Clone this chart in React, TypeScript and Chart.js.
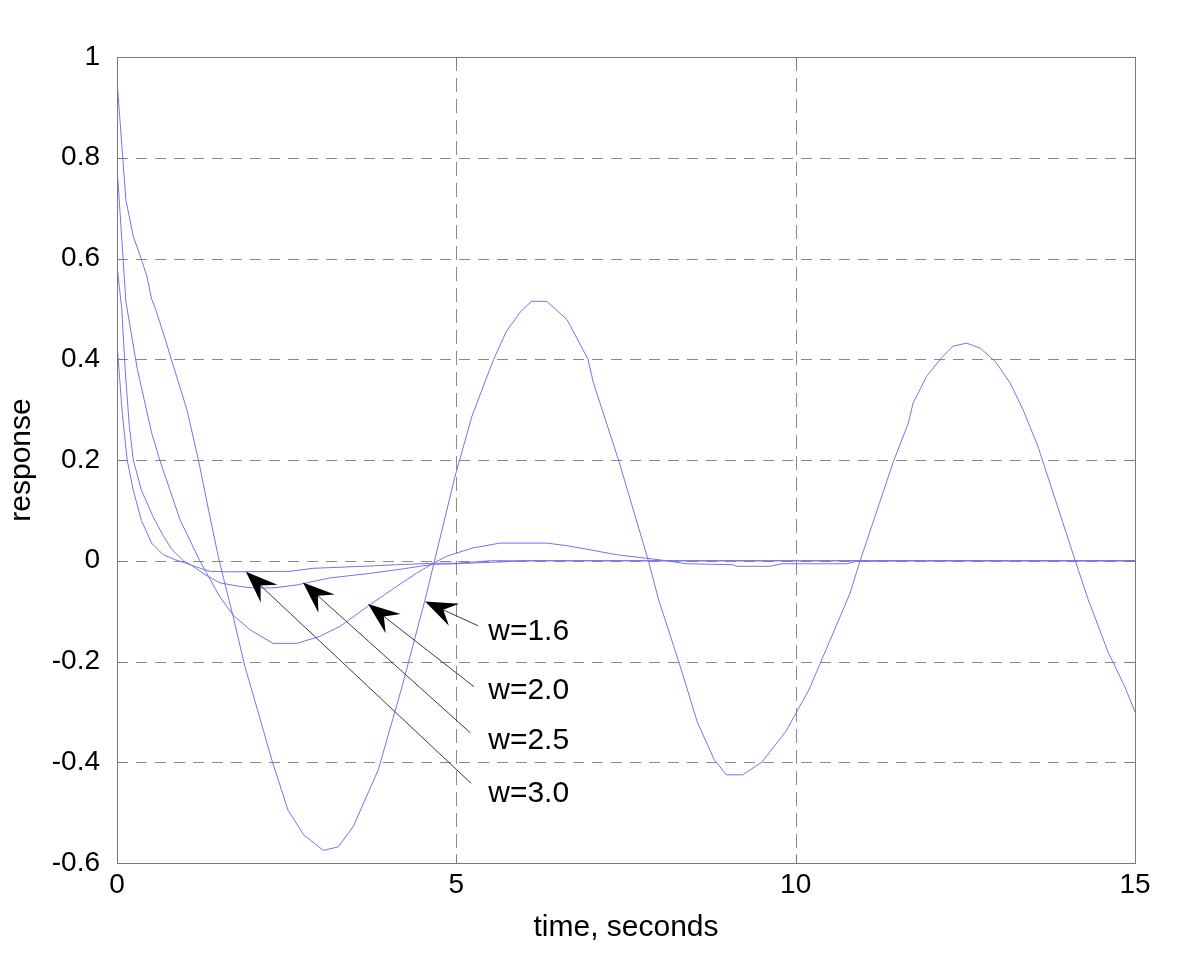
import React, { useEffect, useRef } from "react";
import { Chart, registerables } from "chart.js";

Chart.register(...registerables);

// ---- data ----
// w = 1.6
const tA = [0, 0.13, 0.24, 0.36, 0.44, 0.51, 0.56, 0.71, 0.8, 1.03, 1.2, 1.35, 1.49, 1.57, 1.71, 1.885, 2.1, 2.28, 2.52, 2.75, 3.04, 3.26, 3.48, 3.85, 4.2, 4.54, 4.98, 5.23, 5.55, 5.74, 5.95, 6.11, 6.33, 6.63, 6.94, 7.02, 7.39, 7.83, 7.98, 8.3, 8.55, 8.8, 8.98, 9.22, 9.5, 9.85, 10.2, 10.5, 10.8, 10.95, 11.44, 11.66, 11.73, 11.93, 12.15, 12.32, 12.52, 12.72, 12.94, 13.16, 13.35, 13.57, 13.65, 14.12, 14.31, 14.6, 14.85, 15];
const vA = [0.955, 0.717, 0.644, 0.598, 0.565, 0.519, 0.503, 0.44, 0.4, 0.3, 0.2, 0.1, 0.01, -0.035, -0.11, -0.21, -0.31, -0.395, -0.495, -0.544, -0.575, -0.568, -0.528, -0.415, -0.25, -0.077, 0.167, 0.287, 0.4, 0.456, 0.495, 0.515, 0.515, 0.479, 0.4, 0.353, 0.2, 0, -0.077, -0.21, -0.32, -0.395, -0.425, -0.425, -0.4, -0.34, -0.255, -0.16, -0.065, 0, 0.197, 0.273, 0.313, 0.366, 0.403, 0.426, 0.432, 0.422, 0.396, 0.353, 0.3, 0.227, 0.194, 0, -0.077, -0.18, -0.25, -0.3];

// w = 2.0
const tB = [0, 0.09, 0.13, 0.3, 0.51, 0.63, 0.93, 1.22, 1.5, 1.71, 1.96, 2.3, 2.65, 2.99, 3.29, 3.73, 4.12, 4.41, 4.66, 4.86, 5.23, 5.64, 6.33, 6.63, 6.92, 7.36, 7.8, 8.1, 8.39, 9.08, 9.13, 9.62, 9.8, 10.75, 10.9, 11.6, 15];
const vB = [0.782, 0.6, 0.515, 0.38, 0.254, 0.2, 0.081, 0, -0.068, -0.108, -0.137, -0.164, -0.164, -0.15, -0.13, -0.087, -0.051, -0.025, -0.005, 0.009, 0.025, 0.035, 0.035, 0.03, 0.023, 0.012, 0.005, 0, -0.006, -0.008, -0.011, -0.011, -0.006, -0.006, -0.001, 0, 0];

// w = 2.5
const tC = [0, 0.07, 0.12, 0.18, 0.24, 0.36, 0.54, 0.68, 0.81, 0.98, 1.12, 1.3, 1.52, 1.81, 2.0, 2.3, 2.65, 3.14, 3.73, 4.22, 4.66, 5.0, 5.7, 6.0, 15];
const vC = [0.586, 0.5, 0.38, 0.27, 0.2, 0.14, 0.085, 0.05, 0.022, 0, -0.011, -0.028, -0.044, -0.051, -0.054, -0.054, -0.048, -0.034, -0.025, -0.016, -0.007, -0.006, -0.002, 0, 0];

// w = 3.0
const tD = [0, 0.04, 0.08, 0.15, 0.24, 0.36, 0.51, 0.68, 0.86, 1.08, 1.25, 1.37, 1.66, 2.55, 2.89, 3.63, 4.1, 4.66, 5.0, 5.5, 15];
const vD = [0.433, 0.36, 0.29, 0.2, 0.14, 0.08, 0.035, 0.012, 0.002, -0.008, -0.016, -0.021, -0.022, -0.021, -0.015, -0.011, -0.008, -0.005, -0.005, 0, 0];

const xTicks = [0, 5, 10, 15];
const xTickLabels = ["0", "5", "10", "15"];
const yTicks = [-0.6, -0.4, -0.2, 0, 0.2, 0.4, 0.6, 0.8, 1];
const yTickLabels = ["-0.6", "-0.4", "-0.2", "0", "0.2", "0.4", "0.6", "0.8", "1"];

const xTitle = "time, seconds";
const yTitle = "response";

// annotations (data coordinates)
const noteLabels = ["w=1.6", "w=2.0", "w=2.5", "w=3.0"];
const noteTipT = [4.54, 3.7, 2.74, 1.9];
const noteTipV = [-0.081, -0.086, -0.043, -0.022];
const noteTailT = [5.32, 5.26, 5.21, 5.22];
const noteTailV = [-0.129, -0.25, -0.342, -0.442];
const noteLabelT = [5.47, 5.47, 5.47, 5.47];
const noteLabelV = [-0.141, -0.258, -0.358, -0.463];

const FONT = "'Liberation Sans', Arial, Helvetica, sans-serif";
const LINE_COLOR = "#7474ee";

function toPoints(ts: number[], vs: number[]) {
  return ts.map((t, i) => ({ x: t, y: vs[i] }));
}

export default function App() {
  const ref = useRef<HTMLCanvasElement | null>(null);

  useEffect(() => {
    if (!ref.current) return;

    const framePlugin = {
      id: "matlabFrame",
      beforeDatasetsDraw(chart: any) {
        const { ctx, chartArea, scales } = chart;
        const { left, right, top, bottom } = chartArea;
        ctx.save();
        ctx.strokeStyle = "#8a8a8a";
        ctx.lineWidth = 1;
        ctx.setLineDash([11, 8]);
        yTicks.forEach((v) => {
          if (v === yTicks[0] || v === yTicks[yTicks.length - 1]) return;
          const y = Math.round(scales.y.getPixelForValue(v)) + 0.5;
          ctx.beginPath();
          ctx.moveTo(left, y);
          ctx.lineTo(right, y);
          ctx.stroke();
        });
        ctx.setLineDash([14, 7]);
        xTicks.forEach((v) => {
          if (v === xTicks[0] || v === xTicks[xTicks.length - 1]) return;
          const x = Math.round(scales.x.getPixelForValue(v)) + 0.5;
          ctx.beginPath();
          ctx.moveTo(x, top);
          ctx.lineTo(x, bottom);
          ctx.stroke();
        });
        ctx.restore();
      },
      afterDatasetsDraw(chart: any) {
        const { ctx, chartArea, scales } = chart;
        const { left, right, top, bottom } = chartArea;
        ctx.save();
        ctx.strokeStyle = "#7a7a7a";
        ctx.lineWidth = 1;
        ctx.setLineDash([]);
        const L = Math.round(left) + 0.5;
        const R = Math.round(right) + 0.5;
        const T = Math.round(top) + 0.5;
        const B = Math.round(bottom) + 0.5;
        ctx.strokeRect(L, T, R - L, B - T);
        const tl = 9;
        ctx.beginPath();
        yTicks.forEach((v) => {
          const y = Math.round(scales.y.getPixelForValue(v)) + 0.5;
          ctx.moveTo(L, y);
          ctx.lineTo(L + tl, y);
          ctx.moveTo(R, y);
          ctx.lineTo(R - tl, y);
        });
        xTicks.forEach((v) => {
          const x = Math.round(scales.x.getPixelForValue(v)) + 0.5;
          ctx.moveTo(x, B);
          ctx.lineTo(x, B - tl);
          ctx.moveTo(x, T);
          ctx.lineTo(x, T + tl);
        });
        ctx.stroke();

        noteLabels.forEach((label, i) => {
          const tx = scales.x.getPixelForValue(noteTipT[i]);
          const ty = scales.y.getPixelForValue(noteTipV[i]);
          const ex = scales.x.getPixelForValue(noteTailT[i]);
          const ey = scales.y.getPixelForValue(noteTailV[i]);
          const dx = ex - tx;
          const dy = ey - ty;
          const len = Math.hypot(dx, dy);
          const ux = dx / len;
          const uy = dy / len;
          const headLen = 34;
          const ang = (21 * Math.PI) / 180;
          const rot = (a: number) => ({
            x: ux * Math.cos(a) - uy * Math.sin(a),
            y: ux * Math.sin(a) + uy * Math.cos(a),
          });
          const r1 = rot(ang);
          const r2 = rot(-ang);
          const notch = 20;
          ctx.strokeStyle = "#3c3c3c";
          ctx.lineWidth = 1;
          ctx.beginPath();
          ctx.moveTo(tx + ux * notch, ty + uy * notch);
          ctx.lineTo(ex, ey);
          ctx.stroke();
          ctx.fillStyle = "#000";
          ctx.beginPath();
          ctx.moveTo(tx, ty);
          ctx.lineTo(tx + r1.x * headLen, ty + r1.y * headLen);
          ctx.lineTo(tx + ux * notch, ty + uy * notch);
          ctx.lineTo(tx + r2.x * headLen, ty + r2.y * headLen);
          ctx.closePath();
          ctx.fill();
          ctx.fillStyle = "#000";
          ctx.font = `30px ${FONT}`;
          ctx.textAlign = "left";
          ctx.textBaseline = "middle";
          ctx.fillText(
            label,
            scales.x.getPixelForValue(noteLabelT[i]),
            scales.y.getPixelForValue(noteLabelV[i])
          );
        });
        ctx.restore();
      },
    };

    const mk = (ts: number[], vs: number[]) => ({
      data: toPoints(ts, vs),
      borderColor: LINE_COLOR,
      backgroundColor: LINE_COLOR,
      borderWidth: 1,
      pointRadius: 0,
      tension: 0,
      fill: false,
    });

    const chart = new Chart(ref.current, {
      type: "line",
      data: {
        datasets: [mk(tA, vA), mk(tB, vB), mk(tC, vC), mk(tD, vD)],
      },
      options: {
        animation: false,
        responsive: false,
        maintainAspectRatio: false,
        devicePixelRatio: 1,
        layout: { padding: { top: 57, right: 65, left: 0, bottom: 0 } },
        plugins: {
          legend: { display: false },
          tooltip: { enabled: false },
          title: { display: false },
        },
        scales: {
          x: {
            type: "linear",
            min: 0,
            max: 15,
            grid: { display: false },
            border: { display: false },
            afterBuildTicks: (scale: any) => {
              scale.ticks = xTicks.map((v) => ({ value: v }));
            },
            afterFit: (scale: any) => {
              scale.height = 96;
            },
            ticks: {
              autoSkip: false,
              maxRotation: 0,
              padding: -3,
              color: "#000",
              font: { family: FONT, size: 28 },
              callback: (_v: any, i: number) => xTickLabels[i],
            },
            title: {
              display: true,
              text: xTitle,
              color: "#000",
              font: { family: FONT, size: 30 },
              padding: { top: 0, bottom: 13 },
            },
          },
          y: {
            type: "linear",
            min: -0.6,
            max: 1,
            grid: { display: false },
            border: { display: false },
            afterBuildTicks: (scale: any) => {
              scale.ticks = yTicks.map((v) => ({ value: v }));
            },
            afterFit: (scale: any) => {
              scale.width = 117;
            },
            ticks: {
              autoSkip: false,
              padding: 9,
              color: "#000",
              font: { family: FONT, size: 28 },
              callback: (_v: any, i: number) => yTickLabels[i],
            },
            title: {
              display: true,
              text: yTitle,
              color: "#000",
              font: { family: FONT, size: 30 },
              padding: { top: 4, bottom: 0 },
            },
          },
        },
      } as any,
      plugins: [framePlugin],
    });

    return () => chart.destroy();
  }, []);

  return (
    <div
      style={{
        position: "fixed",
        left: 0,
        top: 0,
        width: 1200,
        height: 959,
        background: "#fff",
      }}
    >
      <canvas ref={ref} width={1200} height={959} style={{ display: "block" }} />
    </div>
  );
}
